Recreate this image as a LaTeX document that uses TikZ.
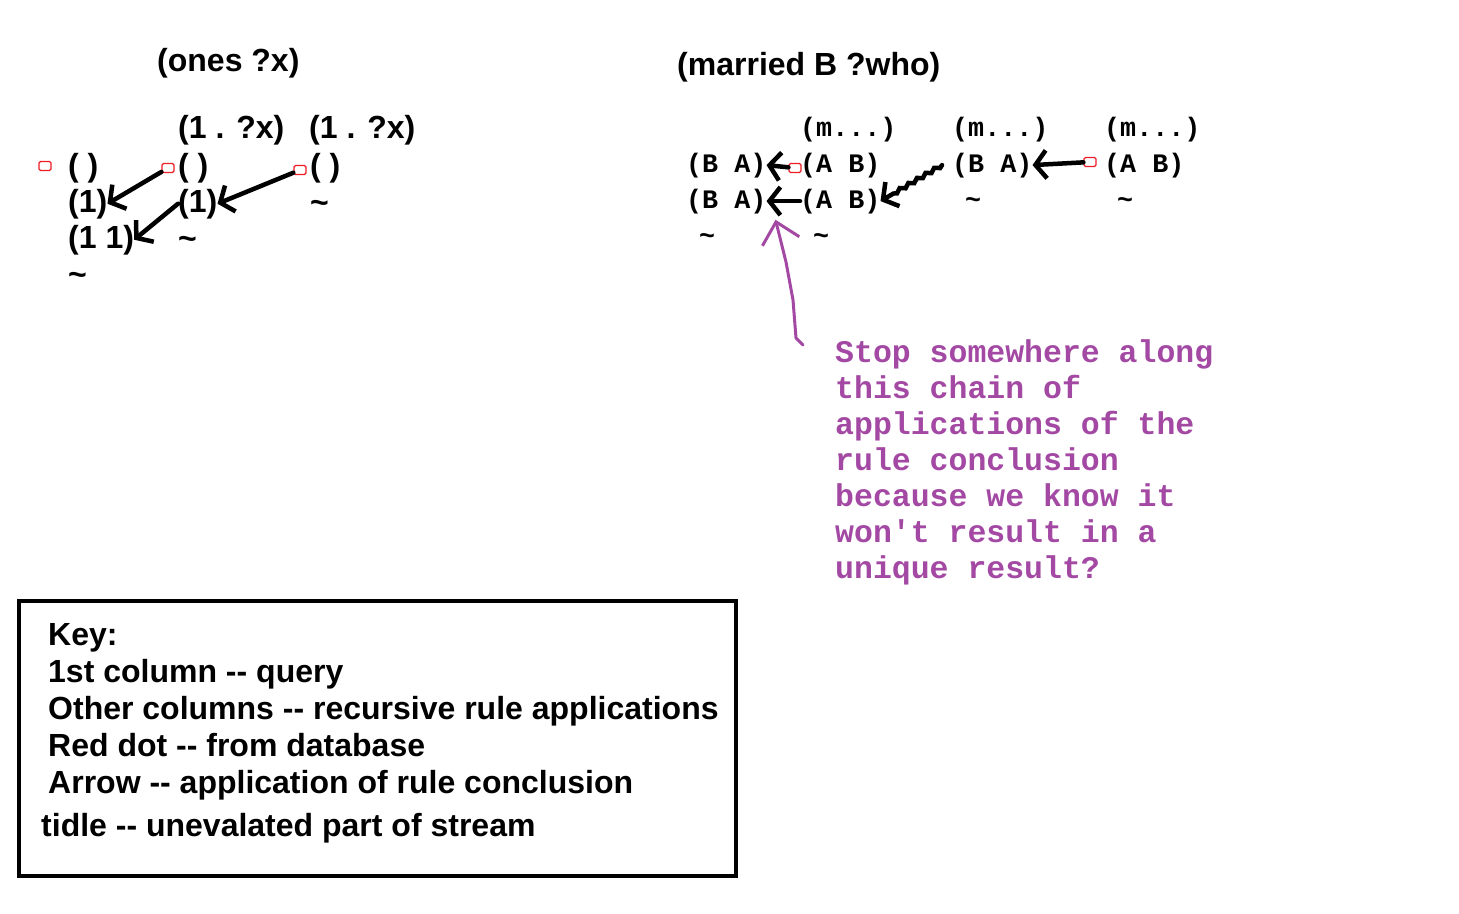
\documentclass[tikz,border=0pt]{standalone}
\usepackage{fontspec}
\newfontfamily\arialfont{Liberation Sans}
\newfontfamily\courfont{Liberation Mono}
\usetikzlibrary{arrows.meta,decorations.pathmorphing}
\definecolor{paintpurple}{RGB}{163,73,164}
\definecolor{paintred}{RGB}{237,28,36}

\begin{document}
\begin{tikzpicture}[x=1pt, y=-1pt,
        lisp/.style={anchor=base west, inner sep=0pt, font=\arialfont\bfseries\fontsize{32}{37}\selectfont},
        cour/.style={anchor=base west, inner sep=0pt, font=\courfont\bfseries\fontsize{26.7}{30}\selectfont},
        purplenote/.style={anchor=base west, inner sep=0pt, text=paintpurple, font=\courfont\bfseries\fontsize{31.5}{36}\selectfont},
        dbdot/.style={draw=paintred, line width=1.2pt, rounded corners=1.5pt, minimum width=12pt, minimum height=9pt, inner sep=0pt},
        conc/.style={line width=4.5pt, line cap=round, -{Straight Barb[length=11pt,width=28pt]}},
        purplelink/.style={line width=3pt, paintpurple, line cap=round, line join=round, -{Straight Barb[length=20pt,width=38pt]}}
    ]
    \useasboundingbox (0,0) rectangle (1459,913);

    % Left diagram - (ones ?x)
    \node[lisp] (ones) at (157,71) {(ones ?x)};
    \node[lisp] (h2) at (178,138) {(1 . ?x)};
    \node[lisp] (h3) at (309,138) {(1 . ?x)};
    \node[lisp] (a1) at (68,176) {( )};
    \node[lisp] (a2) at (68,212) {(1)};
    \node[lisp] (a3) at (68,248) {(1 1)};
    \node[lisp] (at) at (68,285) {\textasciitilde};
    \node[lisp] (b1) at (178,176) {( )};
    \node[lisp] (b2) at (178,212) {(1)};
    \node[lisp] (bt) at (178,249) {\textasciitilde};
    \node[lisp] (c1) at (310,176) {( )};
    \node[lisp] (ct) at (310,213) {\textasciitilde};
    \node[dbdot] (d1) at (45,166) {};
    \node[dbdot] (d2) at (168,168) {};
    \node[dbdot] (d3) at (300,170) {};
    \draw[conc] (d2) -- (a2.east);
    \draw[conc] (d3) -- (b2.east);
    \draw[conc] (b2.west) -- (a3.east);

    % Right diagram - (married B ?who)
    \node[lisp] (married) at (677,75) {(married B ?who)};
    \node[cour] (m2) at (800,136) {(m...)};
    \node[cour] (m3) at (952,136) {(m...)};
    \node[cour] (m4) at (1104,136) {(m...)};
    \node[cour] (p1) at (686,172) {(B A)};
    \node[cour] (p2) at (686,208) {(B A)};
    \node[cour] (pt) at (699,244) {\textasciitilde};
    \node[cour] (q1) at (800,172) {(A B)};
    \node[cour] (q2) at (800,208) {(A B)};
    \node[cour] (qt) at (813,244) {\textasciitilde};
    \node[cour] (r1) at (952,172) {(B A)};
    \node[cour] (rt) at (965,208) {\textasciitilde};
    \node[cour] (s1) at (1104,172) {(A B)};
    \node[cour] (st) at (1117,208) {\textasciitilde};
    \node[dbdot] (d4) at (795,168) {};
    \node[dbdot] (d5) at (1090,162) {};
    \draw[conc] (d4) -- (p1.east);
    \draw[conc] (q2.west) -- (p2.east);
    \draw[conc, decorate, decoration={snake, amplitude=1.6pt, segment length=10pt, post length=14pt}] ([xshift=-10pt]r1.west) -- (q2.east);
    \draw[conc] (d5) -- (r1.east);

    % purple remark
    \coordinate (pstart) at (803,345);
    \draw[purplelink] (pstart) -- (796,338) -- (793,300) -- (786,262) -- ([shift={(9pt,-6pt)}]p2.south east);
    \foreach \ln [count=\i from 0] in {Stop somewhere along, this chain of, applications of the, rule conclusion, because we know it, won't result in a, unique result?}
        \node[purplenote] (note\i) at (835,362+36*\i) {\ln};

    % Key
    \draw[line width=4pt] (19,601) rectangle (736,876);
    \node[lisp] (key) at (48,645) {Key:};
    \node[lisp] (key1) at (48,682) {1st column -- query};
    \node[lisp] (key2) at (48,719) {Other columns -- recursive rule applications};
    \node[lisp] (key3) at (48,756) {Red dot -- from database};
    \node[lisp] (key4) at (48,793) {Arrow -- application of rule conclusion};
    \node[lisp] (key5) at (41,836) {tidle -- unevalated part of stream};
\end{tikzpicture}
\end{document}
